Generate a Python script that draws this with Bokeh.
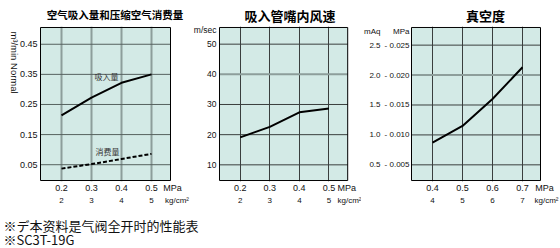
import math
from bokeh.plotting import figure
from bokeh.models import Range1d, LinearAxis, FixedTicker, Label
from bokeh.layouts import column, row
from bokeh.embed import file_html
from bokeh.resources import INLINE

# ---------------- data ----------------
pressure_mpa_a = [0.2, 0.3, 0.4, 0.5]
pressure_kgf_a = ["2", "3", "4", "5"]
intake_flow = [0.214, 0.273, 0.322, 0.350]          # m3/min Normal
air_consumption = [0.037, 0.052, 0.069, 0.086]      # m3/min Normal
nozzle_velocity = [19.1, 22.6, 27.4, 28.7]          # m/sec
pressure_mpa_b = [0.4, 0.5, 0.6, 0.7]
pressure_kgf_b = ["4", "5", "6", "7"]
vacuum_mpa = [0.0087, 0.0115, 0.0160, 0.0213]       # magnitude, MPa (shown as negative)

flow_ticks = [0.05, 0.15, 0.25, 0.35, 0.45]
flow_tick_labels = ["0.05", "0.15", "0.25", "0.35", "0.45"]
velocity_ticks = [10, 20, 30, 40, 50]
velocity_tick_labels = ["10", "20", "30", "40", "50"]
vacuum_ticks = [0.005, 0.010, 0.015, 0.020, 0.025]
vacuum_tick_labels = ["- 0.005", "- 0.010", "- 0.015", "- 0.020", "- 0.025"]
maq_ticks = [0.5, 1.0, 1.5, 2.0, 2.5]
maq_tick_labels = ["0.5", "1.0", "1.5", "2.0", "2.5"]

titles = ["空气吸入量和压缩空气消费量", "吸入管嘴内风速", "真空度"]
notes = ["※デ本资料是气阀全开时的性能表", "※SC3T-19G"]

# ---------------- style ----------------
BG = "#d3eae6"
DARK = "#3a3f3e"
GRAY = "#8d9e9b"
TICK_FONT = "Liberation Sans"
TICK_SIZE = "9px"
CJK = "Noto Sans CJK SC"
H = 212


def style_axis(ax, standoff=2, size=TICK_SIZE, font=TICK_FONT):
    ax.major_tick_line_color = None
    ax.minor_tick_line_color = None
    ax.major_tick_out = 0
    ax.major_tick_in = 0
    ax.minor_tick_out = 0
    ax.minor_tick_in = 0
    ax.axis_line_color = None
    ax.major_label_standoff = standoff
    ax.major_label_text_font = font
    ax.major_label_text_font_size = size
    ax.major_label_text_color = "#111111"


def make_panel(width, bl, bt, box_x, box_y, box_px_w, box_px_h, xticks, kgf_labels,
               unit_mpa_x, unit_kgf_x, title, title_offset, title_size, title_standoff):
    mx = (box_x[1] - box_x[0]) / box_px_w
    my = (box_y[1] - box_y[0]) / box_px_h
    frame_h = box_px_h + 2
    bb = H - bt - frame_h
    x0 = box_x[0] - mx
    x1 = x0 + (width - bl) * mx
    y0 = box_y[0] - my
    y1 = box_y[1] + my
    p = figure(width=width, height=H, x_range=Range1d(x0, x1), y_range=Range1d(y0, y1),
               toolbar_location=None, output_backend="svg",
               min_border_left=bl, min_border_right=0, min_border_top=bt, min_border_bottom=bb)
    p.background_fill_color = "white"
    p.border_fill_color = "white"
    p.outline_line_color = None
    # title
    p.title.text = title
    p.title.align = "center"
    p.title.offset = title_offset
    p.title.text_font = CJK
    p.title.text_font_style = "bold"
    p.title.text_font_size = title_size
    p.title.text_color = "#000000"
    p.title.standoff = title_standoff
    # panel box fill
    p.quad(left=[box_x[0]], right=[box_x[1]], bottom=[box_y[0]], top=[box_y[1]],
           fill_color=BG, line_color=None, level="image")
    # x axes: MPa row and kg/cm2 row
    ax1 = p.xaxis[0]
    ax1.ticker = FixedTicker(ticks=list(xticks) + [unit_mpa_x])
    lab1 = {t: f"{t:.1f}" for t in xticks}
    lab1[unit_mpa_x] = "MPa"
    ax1.major_label_overrides = lab1
    style_axis(ax1, standoff=1)
    lab2 = {t: s for t, s in zip(xticks, kgf_labels)}
    lab2[unit_kgf_x] = "kg/cm²"
    ax2 = LinearAxis(ticker=FixedTicker(ticks=list(xticks) + [unit_kgf_x]),
                     major_label_overrides=lab2)
    style_axis(ax2, standoff=0, size="8px")
    p.add_layout(ax2, "below")
    p.xgrid[0].ticker = FixedTicker(ticks=list(xticks))
    p.ygrid.visible = False
    return p


def hgrid(p, box_x, ticks, color, width):
    n = len(ticks)
    p.segment(x0=[box_x[0]] * n, x1=[box_x[1]] * n, y0=ticks, y1=ticks,
              line_color=color, line_width=width)


def outline(p, box_x, box_y):
    p.quad(left=[box_x[0]], right=[box_x[1]], bottom=[box_y[0]], top=[box_y[1]],
           fill_color=None, line_color="black", line_width=1)


# ---------------- panel 1 ----------------
bx1, by1 = (0.13, 0.5633), (-0.0025, 0.5057)
p1 = make_panel(190, 39, 24, bx1, by1, 130, 155, pressure_mpa_a, pressure_kgf_a,
                0.57, 0.585, titles[0], -7.5, "10.5px", 9)
ya = p1.yaxis[0]
ya.ticker = FixedTicker(ticks=flow_ticks)
ya.major_label_overrides = {t: s for t, s in zip(flow_ticks, flow_tick_labels)}
style_axis(ya)
ylab_pos = 0.286
ax_name = LinearAxis(ticker=FixedTicker(ticks=[ylab_pos]),
                     major_label_overrides={ylab_pos: "m³/min Normal"})
style_axis(ax_name, standoff=2, size="9.5px")
ax_name.major_label_orientation = -math.pi / 2
p1.add_layout(ax_name, "left")
p1.xgrid.grid_line_color = GRAY
p1.xgrid.grid_line_width = 2
hgrid(p1, bx1, flow_ticks, "#56625f", 1)
p1.line(pressure_mpa_a, intake_flow, line_color="black", line_width=2)
p1.line(pressure_mpa_a, air_consumption, line_color="black", line_width=2, line_dash="4 2")
p1.add_layout(Label(x=0.35, y=0.342, text="吸入量", text_align="center", text_baseline="middle",
                    text_font=CJK, text_font_size="8px", text_color="#333333"))
p1.add_layout(Label(x=0.353, y=0.093, text="消费量", text_align="center", text_baseline="middle",
                    text_font=CJK, text_font_size="8px", text_color="#333333"))
outline(p1, bx1, by1)

# ---------------- panel 2 ----------------
bx2, by2 = (0.13, 0.5633), (4.80, 55.53)
p2 = make_panel(171, 26, 23, bx2, by2, 130, 156, pressure_mpa_a, pressure_kgf_a,
                0.56, 0.57, titles[1], -6.5, "13px", 4)
yb = p2.yaxis[0]
vel_unit_pos = 54.6
yb.ticker = FixedTicker(ticks=velocity_ticks + [vel_unit_pos])
lb = {t: s for t, s in zip(velocity_ticks, velocity_tick_labels)}
lb[vel_unit_pos] = "m/sec"
yb.major_label_overrides = lb
style_axis(yb, standoff=2, size="8.5px")
p2.xgrid.grid_line_color = DARK
p2.xgrid.grid_line_width = 1
hgrid(p2, bx2, [10, 20, 30, 50], DARK, 1)
hgrid(p2, bx2, [40], GRAY, 2)
p2.line(pressure_mpa_a, nozzle_velocity, line_color="black", line_width=2)
outline(p2, bx2, by2)

# ---------------- panel 3 ----------------
bx3, by3 = (0.33, 0.76), (0.00238, 0.02795)
p3 = make_panel(199, 49, 23, bx3, by3, 129, 156, pressure_mpa_b, pressure_kgf_b,
                0.773, 0.78, titles[2], -10, "13px", 4)
yc = p3.yaxis[0]
vac_unit_pos = 0.0273
yc.ticker = FixedTicker(ticks=vacuum_ticks + [vac_unit_pos])
lc = {t: s for t, s in zip(vacuum_ticks, vacuum_tick_labels)}
lc[vac_unit_pos] = "MPa"
yc.major_label_overrides = lc
style_axis(yc, standoff=1, size="8px")
yr3 = p3.y_range
p3.extra_y_ranges = {"maq": Range1d(yr3.start * 100, yr3.end * 100)}
maq_unit_pos = vac_unit_pos * 100
lm = {t: s for t, s in zip(maq_ticks, maq_tick_labels)}
lm[maq_unit_pos] = "mAq"
ax_maq = LinearAxis(y_range_name="maq", ticker=FixedTicker(ticks=maq_ticks + [maq_unit_pos]),
                    major_label_overrides=lm)
style_axis(ax_maq, standoff=1, size="8px")
p3.add_layout(ax_maq, "left")
p3.xgrid.grid_line_color = DARK
p3.xgrid.grid_line_width = 1
hgrid(p3, bx3, [0.005, 0.010, 0.015, 0.025], DARK, 1)
hgrid(p3, bx3, [0.020], GRAY, 2)
p3.line(pressure_mpa_b, vacuum_mpa, line_color="black", line_width=2)
outline(p3, bx3, by3)

# ---------------- notes ----------------
pn = figure(width=560, height=248 - H, x_range=Range1d(0, 1), y_range=Range1d(0, 1),
            toolbar_location=None, output_backend="svg",
            min_border_left=0, min_border_right=0, min_border_top=0, min_border_bottom=0)
pn.axis.visible = False
pn.grid.visible = False
pn.outline_line_color = None
pn.background_fill_color = "white"
pn.add_layout(Label(x=3, y=23, x_units="screen", y_units="screen", text=notes[0],
                    text_align="left", text_baseline="middle", text_font="Noto Sans CJK JP",
                    text_font_size="13px", text_color="#111111"))
pn.add_layout(Label(x=3, y=9.5, x_units="screen", y_units="screen", text=notes[1],
                    text_align="left", text_baseline="middle", text_font="Noto Sans CJK JP",
                    text_font_size="13px", text_color="#111111"))

layout = column(row(p1, p2, p3), pn)
open("out.html", "w").write(file_html(layout, INLINE))
